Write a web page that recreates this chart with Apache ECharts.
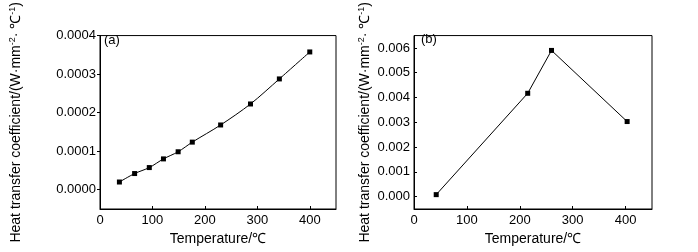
<!DOCTYPE html>
<html>
<head>
<meta charset="utf-8">
<script src="https://cdn.jsdelivr.net/npm/echarts@6/dist/echarts.min.js"></script>
<style>
  html, body { margin: 0; padding: 0; background: #fff; }
  #chart { width: 698px; height: 252px; }
</style>
</head>
<body>
<div id="chart"></div>
<script>
// panel (a): measured points
const tempA = [37, 66, 94, 121, 149, 176, 230, 287, 342, 400]
const htcA = [0.00002, 0.000042, 0.0000575, 0.00008, 0.0000985, 0.0001235, 0.000168, 0.0002225, 0.0002875, 0.0003575]
// panel (b)
const tempB = [42, 215, 260, 403]
const htcB = [0.00008, 0.00417, 0.0059, 0.00303]
// tick labels
const xTicks = [0, 100, 200, 300, 400]
const yTicksA = [0, 0.0001, 0.0002, 0.0003, 0.0004]
const yTicksB = [0, 0.001, 0.002, 0.003, 0.004, 0.005, 0.006]

const FONT = 'Liberation Sans, Arial, sans-serif'
const yName = 'Heat transfer coefficient/(W·mm{s|-2}· ℃{s|-1})'

const chart = echarts.init(document.getElementById('chart'))

function xAxis(idx) {
  return {
    type: 'value', gridIndex: idx, min: 0, max: 450,
    name: 'Temperature/℃', nameLocation: 'middle', nameGap: 19,
    nameTextStyle: { color: '#000', fontSize: 14, fontFamily: FONT },
    axisLine: { onZero: false, lineStyle: { color: '#000', width: 1 } },
    axisTick: { inside: true, length: 3, customValues: xTicks, lineStyle: { color: '#000' } },
    axisLabel: { customValues: xTicks, color: '#000', fontSize: 13, fontFamily: FONT, margin: 5 },
    splitLine: { show: false }
  }
}

function yAxis(idx, min, max, ticks, digits, gap, inside) {
  return {
    type: 'value', gridIndex: idx, min: min, max: max,
    name: yName, nameLocation: 'middle', nameGap: gap,
    nameTextStyle: {
      color: '#000', fontSize: 14, fontFamily: FONT,
      rich: { s: { fontSize: 9, fontFamily: FONT, color: '#000', padding: [0, 0, 7, 0] } }
    },
    axisLine: { onZero: false, lineStyle: { color: '#000', width: 1 } },
    axisTick: { inside: inside, length: 3, customValues: ticks, lineStyle: { color: '#000' } },
    axisLabel: {
      customValues: ticks, color: '#000', fontSize: 13, fontFamily: FONT, margin: 4,
      formatter: v => Number(v).toFixed(digits)
    },
    splitLine: { show: false }
  }
}

const option = {
  animation: false,
  backgroundColor: '#fff',
  grid: [
    { left: 100, top: 29, width: 236, height: 180, show: true, borderColor: '#000', borderWidth: 1 },
    { left: 414, top: 29, width: 238, height: 180, show: true, borderColor: '#000', borderWidth: 1 }
  ],
  graphic: [
    { type: 'text', left: 104, top: 34, style: { text: '(a)', fontSize: 13, fontFamily: FONT, fill: '#000' } },
    { type: 'text', left: 421, top: 33, style: { text: '(b)', fontSize: 13, fontFamily: FONT, fill: '#000' } }
  ],
  xAxis: [xAxis(0), xAxis(1)],
  yAxis: [
    yAxis(0, -0.00005, 0.0004, yTicksA, 4, 76, false),
    yAxis(1, -0.0005, 0.0065, yTicksB, 3, 41, true)
  ],
  series: [
    {
      type: 'line', xAxisIndex: 0, yAxisIndex: 0, smooth: 0.3,
      data: tempA.map((t, i) => [t, htcA[i]]),
      symbol: 'rect', symbolSize: 5,
      lineStyle: { color: '#000', width: 1 },
      itemStyle: { color: '#000' }
    },
    {
      type: 'line', xAxisIndex: 1, yAxisIndex: 1,
      data: tempB.map((t, i) => [t, htcB[i]]),
      symbol: 'rect', symbolSize: 5,
      lineStyle: { color: '#000', width: 1 },
      itemStyle: { color: '#000' }
    }
  ]
}

chart.setOption(option)
</script>
</body>
</html>
